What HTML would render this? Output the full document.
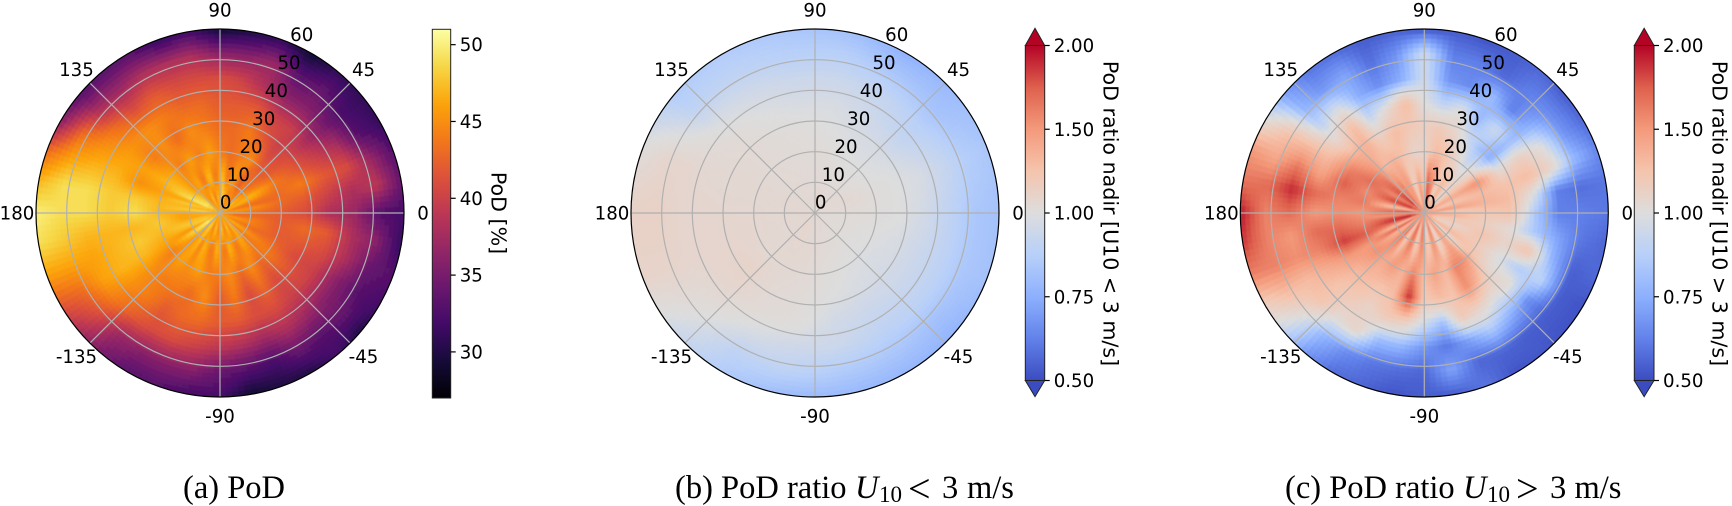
<!DOCTYPE html>
<html lang="en">
<head>
<meta charset="utf-8">
<title>PoD polar charts</title>
<style>
html,body{margin:0;padding:0;background:#fff;width:1732px;height:506px;overflow:hidden}
svg{display:block}
.tick{font-family:"DejaVu Sans",sans-serif;font-size:18.2px;fill:#000}
.title{font-family:"DejaVu Sans",sans-serif;font-size:20.6px;fill:#000}
.cap{font-family:"Liberation Serif",serif;font-size:32.5px;fill:#000}
.capi{font-style:italic}
.cap-sub{font-family:"Liberation Serif",serif;font-size:23px;fill:#000}
.cap-op{font-family:"Liberation Serif",serif;font-size:40px;fill:#000}
</style>
</head>
<body>
<svg id="fig" xmlns="http://www.w3.org/2000/svg" width="1732" height="506" viewBox="0 0 1732 506">
  <defs>
    <filter id="soft" filterUnits="userSpaceOnUse" x="0" y="0" width="1732" height="506"><feGaussianBlur stdDeviation="0.8"/></filter>
  </defs>
  <g id="panel-a"></g>
  <g id="panel-b"></g>
  <g id="panel-c"></g>

  <text class="title" text-anchor="middle" transform="translate(491.5,213) rotate(90)">PoD [%]</text>
  <text class="title" text-anchor="middle" transform="translate(1103.3,213.5) rotate(90)">PoD ratio nadir [U10 &lt; 3 m/s]</text>
  <text class="title" text-anchor="middle" transform="translate(1712.6,213.5) rotate(90)">PoD ratio nadir [U10 &gt; 3 m/s]</text>

  <text class="cap" x="183" y="498">(a) PoD</text>
  <g>
    <text class="cap" x="675" y="498">(b) PoD ratio</text>
    <text class="cap capi" x="855" y="498">U</text>
    <text class="cap-sub" x="879" y="502">10</text>
    <text class="cap-op" x="908" y="502">&lt;</text>
    <text class="cap" x="942" y="498">3</text>
    <text class="cap" x="967" y="498">m/s</text>
  </g>
  <g>
    <text class="cap" x="1285" y="498">(c) PoD ratio</text>
    <text class="cap capi" x="1463" y="498">U</text>
    <text class="cap-sub" x="1487" y="502">10</text>
    <text class="cap-op" x="1516" y="502">&gt;</text>
    <text class="cap" x="1550" y="498">3</text>
    <text class="cap" x="1574.5" y="498">m/s</text>
  </g>
</svg>
<script>
// ---- chart data ----
const ringRadii = [60, 52, 44, 36, 28, 20, 12, 5];
const radialTicks = [10, 20, 30, 40, 50];
const radialLabels = ["0", "10", "20", "30", "40", "50", "60"];
const angularLabels = ["0", "45", "90", "135", "180", "-135", "-90", "-45"];
const podTicks = [30, 35, 40, 45, 50];
const podTickLabels = ["30", "35", "40", "45", "50"];
const ratioTicks = [0.5, 0.75, 1, 1.5, 2];
const ratioTickLabels = ["0.50", "0.75", "1.00", "1.50", "2.00"];

// each row: one ring (outer to inner), values going counter-clockwise from 0 degrees
const podCenter = 46;
const podRows = [
 [32,34,33,31,31,31,29,31,30,29,32,31,33,33,33,36,43,47,50,49,46,42,38,35,33,33,32,32,29,30,30,32,30,32,33,31],
 [33,39,37,33,32,34,33,37,36,36,38,38,38,37,38,43,46,49,49,48,46,43,41,37,36,36,36,34,33,32,34,33,34,33,34,36],
 [37,38,41,38,35,36,36,38,40,41,41,41,42,41,43,45,47,49,49,47,46,46,44,42,41,41,40,39,38,37,38,37,36,36,38,38],
 [38,40,42,40,38,40,40,42,42,42,43,43,44,45,45,46,47,48,48,47,47,47,45,44,42,43,43,42,42,41,41,40,40,40,41,42],
 [41,42,44,42,41,40,42,44,43,43,44,45,43,45,44,46,45,48,49,47,48,47,45,44,44,43,45,42,44,41,43,41,42,41,42,43],
 [42,43,43,44,42,42,45,44,43,44,46,44,46,44,46,47,46,47,47,48,47,46,44,46,45,46,44,44,45,43,45,43,44,43,42,42],
 [43,44,45,43,44,46,47,45,44,43,44,42,43,45,46,44,44,47,47,44,44,47,47,44,44,46,46,45,46,47,48,49,46,48,47,48,46,46,46,47,48,47,45,48,47,45,46,47,44,47,46,44,44,47,46,44,44,47,46,44,44,46,46,44,44,45,44,43,44,44,44,43],
 [44,45,46,44,44,47,46,46,48,45,44,45,46,44,44,47,48,49,45,47,47,44,44,48,46,45,45,47,48,49,49,50,47,48,46,49,46,47,46,48,47,49,46,50,50,47,46,49,47,45,44,48,47,44,45,48,47,44,45,48,46,44,48,46,44,47,46,44,45,46,44,43]
];

const lowCenter = 1.05;
const lowRows = [
 [0.82,0.84,0.80,0.76,0.82,0.84,0.86,0.86,1.02,1.12,1.10,0.95,0.86,0.80,0.79,0.78,0.77,0.82],
 [0.84,0.87,0.82,0.84,0.88,0.88,0.90,0.90,1.08,1.12,1.10,1.00,0.90,0.90,0.86,0.84,0.82,0.84],
 [0.90,0.93,0.88,0.92,0.94,0.94,0.96,0.98,1.08,1.08,1.08,1.04,0.98,0.95,0.94,0.90,0.90,0.90],
 [0.96,0.98,0.92,0.95,0.98,0.98,1.00,1.04,1.06,1.08,1.08,1.08,1.04,1.02,0.96,0.94,0.94,0.94],
 [1.00,1.00,0.98,0.98,1.00,1.02,1.03,1.05,1.06,1.07,1.08,1.10,1.05,1.03,1.00,0.98,0.97,0.98],
 [1.02,1.02,1.00,1.00,1.03,1.03,1.04,1.05,1.06,1.07,1.07,1.06,1.06,1.05,1.02,1.00,0.99,1.00],
 [1.03,1.06,1.03,1.03,1.04,1.04,1.05,1.05,1.06,1.06,1.06,1.05,1.07,1.06,1.04,1.03,1.02,1.02],
 [1.04,1.05,1.06,1.04,1.07,1.05,1.05,1.06,1.06,1.07,1.06,1.06,1.08,1.06,1.05,1.04,1.04,1.03]
];

const highCenter = 1.5;
const highRows = [
 [0.60,0.60,0.64,0.57,0.54,0.57,0.54,0.52,0.54,0.52,0.55,0.54,0.58,0.60,0.72,1.02,1.50,1.65,1.95,1.85,1.60,1.15,0.92,0.68,0.58,0.56,0.52,0.54,0.54,0.60,0.52,0.53,0.52,0.52,0.57,0.56],
 [0.62,0.58,0.78,0.68,0.65,0.62,0.56,0.62,0.62,0.95,0.68,0.58,0.72,0.68,0.78,1.25,1.42,1.70,1.60,1.60,1.60,1.30,1.02,0.78,0.66,0.60,0.58,0.56,0.72,0.56,0.56,0.54,0.54,0.54,0.55,0.60],
 [0.62,0.62,1.10,1.00,0.75,0.62,0.80,0.65,0.68,0.95,0.75,0.66,0.75,1.00,0.90,1.30,1.65,1.90,1.70,1.50,1.55,1.30,1.25,1.05,1.10,0.80,0.78,0.68,0.60,0.72,0.85,0.75,0.66,0.90,0.78,0.72],
 [0.85,1.00,1.30,1.15,0.80,0.95,0.78,1.00,0.90,1.00,1.30,1.05,0.90,1.30,1.10,1.30,1.45,1.70,1.50,1.70,1.60,1.40,1.25,1.20,1.10,1.20,1.15,0.95,0.82,1.20,1.10,1.00,1.05,0.85,1.25,0.85],
 [1.25,1.30,1.25,1.05,0.75,0.82,0.95,1.10,1.20,1.15,1.20,1.30,1.15,1.35,1.40,1.60,1.75,1.60,1.55,1.70,1.85,1.50,1.35,1.30,1.25,1.30,1.90,1.20,1.30,1.25,1.55,1.30,1.05,1.00,1.10,1.05],
 [1.20,1.35,1.30,1.55,1.10,0.95,1.10,1.25,1.30,1.10,1.10,1.25,1.35,1.30,1.55,1.70,1.55,1.65,1.50,1.60,1.75,1.50,1.55,1.40,1.50,1.35,1.60,1.30,1.45,1.30,1.60,1.55,1.25,1.20,1.25,1.15],
 [1.30,1.20,1.45,1.35,1.25,1.30,1.40,1.30,1.20,1.10,1.15,1.25,1.30,1.20,1.25,1.50,1.55,1.70,1.15,1.30,1.40,1.20,1.15,1.40,1.50,1.45,1.60,1.50,1.75,1.70,1.55,1.70,1.80,1.55,1.25,1.60,1.70,1.50,1.80,1.85,1.60,1.30,1.75,1.35,1.45,1.60,1.55,1.20,1.40,1.60,1.55,1.20,1.30,1.55,1.50,1.20,1.25,1.50,1.45,1.10,1.20,1.40,1.40,1.10,1.15,1.30,1.25,1.15,1.10,1.20,1.20,1.30],
 [1.40,1.20,1.55,1.40,1.20,1.30,1.45,1.30,1.20,1.05,1.10,1.30,1.40,1.15,1.10,1.60,1.70,1.85,1.20,1.40,1.60,1.25,1.15,1.45,1.50,1.50,1.65,1.60,1.90,1.80,1.60,1.80,1.90,1.60,1.20,1.75,1.80,1.50,1.90,1.95,1.60,1.20,1.90,1.30,1.40,1.75,1.70,1.15,1.30,1.70,1.70,1.15,1.30,1.70,1.60,1.10,1.10,1.60,1.60,1.05,1.10,1.50,1.50,1.05,1.10,1.35,1.30,1.10,1.15,1.20,1.25,1.35]
];

// ---- colormaps ----
const infernoStops = ["#000004","#160b39","#420a68","#6a176e","#932667","#bc3754","#dd513a","#f37819","#fca50a","#f6d746","#fcffa4"];
const coolwarmStops = ["#3b4cc0","#6282ea","#8db0fe","#b8d0f9","#dddddd","#f5c4ad","#f49a7b","#de604d","#b40426"];

const NS = "http://www.w3.org/2000/svg";
const R_PX = 184, R_MAX = 60, CY = 213;

function hexRgb(h){ return [parseInt(h.slice(1,3),16),parseInt(h.slice(3,5),16),parseInt(h.slice(5,7),16)]; }
function sample(stops, t){
  t = Math.max(0, Math.min(1, t));
  const p = t * (stops.length - 1), i = Math.min(Math.floor(p), stops.length - 2), f = p - i;
  const a = hexRgb(stops[i]), b = hexRgb(stops[i + 1]);
  return "rgb(" + Math.round(a[0]+(b[0]-a[0])*f) + "," + Math.round(a[1]+(b[1]-a[1])*f) + "," + Math.round(a[2]+(b[2]-a[2])*f) + ")";
}
function podNorm(v){ return (v - 27) / 24; }
function ratioNorm(v){ return v < 1 ? (v - 0.5) : 0.5 + (v - 1) * 0.5; }

// radial and angular axis functions
function radiusScale(r){ return r / R_MAX * R_PX; }
function polar(cx, r, deg){
  const a = deg * Math.PI / 180, p = radiusScale(r);
  return [cx + p * Math.cos(a), CY - p * Math.sin(a)];
}
function rowValue(row, deg){
  const n = row.length, p = ((deg % 360) + 360) % 360 / 360 * n;
  const i = Math.floor(p) % n, f = p - Math.floor(p);
  return row[i] * (1 - f) + row[(i + 1) % n] * f;
}
function valueAt(rows, center, r, deg){
  if (r >= ringRadii[0]) return rowValue(rows[0], deg);
  for (let i = 0; i < ringRadii.length - 1; i++) {
    if (r >= ringRadii[i + 1]) {
      const f = (r - ringRadii[i + 1]) / (ringRadii[i] - ringRadii[i + 1]);
      return rowValue(rows[i + 1], deg) * (1 - f) + rowValue(rows[i], deg) * f;
    }
  }
  const last = ringRadii[ringRadii.length - 1], f = r / last;
  return center * (1 - f) + rowValue(rows[rows.length - 1], deg) * f;
}
function make(tag, parent, attrs){
  const el = document.createElementNS(NS, tag);
  for (const k in attrs) el.setAttribute(k, attrs[k]);
  parent.appendChild(el);
  return el;
}

function drawPolar(g, id, cx, rows, center, norm, stops){
  const clip = make("clipPath", g, {id: "clip-" + id});
  make("circle", clip, {cx: cx, cy: CY, r: R_PX});
  const clipped = make("g", g, {"clip-path": "url(#clip-" + id + ")"});
  
  
  const soft = make("g", clipped, {filter: "url(#soft)"});
  const rStep = 1.5, aStep = 2;
  for (let r = 0; r < R_MAX + 1.5; r += rStep) {
    for (let a = 0; a < 360; a += aStep) {
      const p1 = polar(cx, r, a), p2 = polar(cx, r + rStep, a);
      const p3 = polar(cx, r + rStep, a + aStep), p4 = polar(cx, r, a + aStep);
      const col = sample(stops, norm(valueAt(rows, center, r + rStep / 2, a + aStep / 2)));
      const cell = make("path", soft, {
        d: "M" + p1[0].toFixed(1) + " " + p1[1].toFixed(1) + "L" + p2[0].toFixed(1) + " " + p2[1].toFixed(1) +
           "L" + p3[0].toFixed(1) + " " + p3[1].toFixed(1) + "L" + p4[0].toFixed(1) + " " + p4[1].toFixed(1) + "Z",
        fill: col, stroke: col, "stroke-width": "0.8"
      });
      
      
    }
  }
  // grid
  radialTicks.forEach(function(t){
    const ring = make("circle", g, {cx: cx, cy: CY, r: radiusScale(t), fill: "none", stroke: "#b0b0b0", "stroke-width": "1.2"});
    
    
  });
  angularLabels.forEach(function(l){
    const e = polar(cx, R_MAX, Number(l));
    const spoke = make("line", g, {x1: cx, y1: CY, x2: e[0], y2: e[1], stroke: "#b0b0b0", "stroke-width": "1.2"});
    
    
  });
  const border = make("circle", g, {cx: cx, cy: CY, r: R_PX, fill: "none", stroke: "#000", "stroke-width": "1.2"});
  
  
  // labels
  angularLabels.forEach(function(l){
    const a = Number(l) * Math.PI / 180;
    const x = cx + 203 * Math.cos(a), y = CY - 203 * Math.sin(a) + 6.5;
    const t = make("text", g, {x: x, y: y, "text-anchor": "middle", "class": "tick"});
    t.textContent = l;
    
    
  });
  radialLabels.forEach(function(l){
    const p = polar(cx, Number(l), 65.6);
    const t = make("text", g, {x: p[0] + 5.7, y: p[1] - 10.8 + 6.5, "text-anchor": "middle", "class": "tick"});
    t.textContent = l;
    
    
  });
}

function drawColorbar(g, id, x0, x1, top, bottom, scaleT, ticks, labels, stops, tipTop, tipBottom){
  const grad = make("linearGradient", g, {id: "grad-" + id, x1: 0, y1: 1, x2: 0, y2: 0});
  const n = 48;
  for (let i = 0; i <= n; i++) make("stop", grad, {offset: i / n, "stop-color": sample(stops, i / n)});
  const mid = (x0 + x1) / 2;
  if (tipTop !== null) {
    const tri = make("polygon", g, {points: x0+","+top+" "+mid+","+tipTop+" "+x1+","+top, fill: sample(stops, 1), stroke: "#222", "stroke-width": "1"});
    
    
    const tri2 = make("polygon", g, {points: x0+","+bottom+" "+mid+","+tipBottom+" "+x1+","+bottom, fill: sample(stops, 0), stroke: "#222", "stroke-width": "1"});
    
    
  }
  const bar = make("rect", g, {x: x0, y: top, width: x1 - x0, height: bottom - top, fill: "url(#grad-" + id + ")", stroke: "#222", "stroke-width": "1"});
  
  
  ticks.forEach(function(v, i){
    const y = bottom - scaleT(v) * (bottom - top);
    const tk = make("line", g, {x1: x1, y1: y, x2: x1 + 5, y2: y, stroke: "#000", "stroke-width": "1.2"});
    
    
    const t = make("text", g, {x: x1 + 9, y: y + 6.5, "class": "tick"});
    t.textContent = labels[i];
    
    
  });
}

drawPolar(document.getElementById("panel-a"), "a", 220, podRows, podCenter, podNorm, infernoStops);
drawPolar(document.getElementById("panel-b"), "b", 815, lowRows, lowCenter, ratioNorm, coolwarmStops);
drawPolar(document.getElementById("panel-c"), "c", 1424.3, highRows, highCenter, ratioNorm, coolwarmStops);

drawColorbar(document.getElementById("panel-a"), "a", 432.3, 450.7, 29.3, 398, podNorm, podTicks, podTickLabels, infernoStops, null, null);
drawColorbar(document.getElementById("panel-b"), "b", 1025.3, 1044.7, 45.5, 380.5, ratioNorm, ratioTicks, ratioTickLabels, coolwarmStops, 28.3, 396.7);
drawColorbar(document.getElementById("panel-c"), "c", 1634.3, 1654, 45.5, 380.5, ratioNorm, ratioTicks, ratioTickLabels, coolwarmStops, 28.3, 396.7);
</script>
</body>
</html>
